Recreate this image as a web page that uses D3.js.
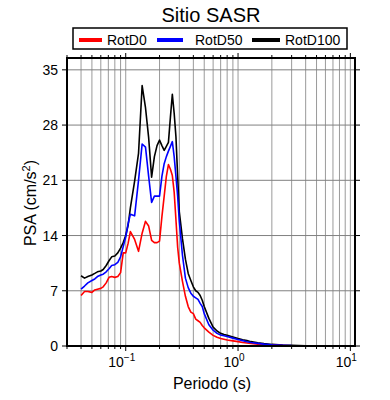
<!DOCTYPE html>
<html>
<head>
<meta charset="utf-8">
<script src="https://d3js.org/d3.v7.min.js"></script>
<style>
body { margin: 0; background: #fff; }
text { font-family: "Liberation Sans", Arial, sans-serif; fill: #000; }
</style>
</head>
<body>
<div id="chart"></div>
<script>
var periods = [0.04, 0.043, 0.046, 0.05, 0.053, 0.056, 0.06, 0.063, 0.067, 0.071, 0.075, 0.08, 0.085, 0.09, 0.095,
  0.1, 0.105, 0.11, 0.12, 0.13, 0.14, 0.15, 0.16, 0.17, 0.18, 0.19, 0.2, 0.21, 0.22, 0.23, 0.24, 0.25, 0.26, 0.27, 0.28, 0.29,
  0.3, 0.32, 0.34, 0.36, 0.38, 0.4, 0.42, 0.44, 0.46, 0.48, 0.5, 0.55, 0.6, 0.65, 0.7, 0.75, 0.8, 0.9,
  1.0, 1.1, 1.2, 1.3, 1.5, 1.7, 2.0, 2.5, 3.0, 4.0, 5.0, 7.5, 10.0]

var rotD0 = [6.4, 6.9, 6.9, 6.8, 7.1, 7.2, 7.3, 7.5, 8.0, 8.7, 8.8, 8.7, 8.8, 9.3, 11.8,
  11.8, 13.0, 14.5, 13.5, 12.0, 14.3, 15.8, 15.2, 13.4, 13.1, 13.1, 13.3, 16.4, 19.0, 21.5, 23.0, 22.4, 21.6, 19.5, 16.0, 12.5,
  10.5, 8.2, 6.3, 5.0, 4.3, 4.1, 3.4, 3.2, 3.0, 2.6, 2.3, 1.75, 1.35, 1.1, 0.95, 0.85, 0.76, 0.65,
  0.55, 0.45, 0.38, 0.32, 0.24, 0.17, 0.12, 0.07, 0.04, 0.02, 0.015, 0.01, 0.01]

var rotD50 = [7.2, 7.6, 8.0, 8.3, 8.5, 8.8, 9.0, 9.1, 9.4, 9.8, 10.2, 10.3, 10.6, 11.3, 12.6,
  13.8, 15.5, 16.7, 16.5, 21.0, 25.6, 25.2, 21.5, 18.2, 19.0, 19.0, 19.0, 21.5, 23.1, 24.0, 24.7, 25.3, 25.9, 24.0, 21.5, 19.0,
  15.8, 11.5, 8.6, 7.4, 6.7, 6.3, 6.1, 5.9, 5.4, 5.0, 4.1, 2.7, 2.0, 1.6, 1.4, 1.3, 1.2, 1.0,
  0.82, 0.68, 0.55, 0.45, 0.33, 0.24, 0.15, 0.09, 0.05, 0.03, 0.02, 0.01, 0.01]

var rotD100 = [8.9, 8.6, 8.8, 9.0, 9.2, 9.4, 9.5, 9.7, 10.2, 10.8, 11.3, 11.4, 11.8, 12.4, 13.1,
  14.0, 15.3, 17.5, 20.9, 24.4, 33.0, 30.2, 26.4, 21.4, 24.0, 25.4, 26.1, 25.4, 24.8, 25.3, 25.8, 29.0, 31.9, 29.5, 26.5, 21.5,
  17.0, 13.6, 11.0, 9.2, 8.3, 7.5, 7.0, 6.8, 6.4, 5.8, 5.0, 3.5, 2.4, 1.9, 1.6, 1.45, 1.35, 1.15,
  0.95, 0.8, 0.68, 0.55, 0.4, 0.3, 0.2, 0.12, 0.08, 0.04, 0.03, 0.02, 0.01]

var seriesNames = ["RotD0", "RotD50", "RotD100"]
var seriesColors = ["#ff0000", "#0000ff", "#000000"]
var yTicks = [0, 7, 14, 21, 28, 35]
var xMajor = [0.1, 1, 10]
var xMajorExp = ["\u22121", "0", "1"]

function drawChart() {
  var W = 390, H = 400
  var pL = 67, pR = 355, pT = 58, pB = 346

  var svg = d3.select("#chart").append("svg").attr("width", W).attr("height", H)
  svg.append("rect").attr("width", W).attr("height", H).attr("fill", "#fff")

  var x = d3.scaleLog().domain([0.03, 11]).range([pL, pR])
  var y = d3.scaleLinear().domain([0, 36.5]).range([pB, pT])

  // every log tick inside the domain (2..9 x decade)
  var xAll = x.ticks().filter(function(t) { return t >= 0.03 && t <= 11 })

  var grid = svg.append("g")
  grid.selectAll(".vg").data(xAll).enter().append("line")
    .attr("x1", function(d) { return x(d) }).attr("x2", function(d) { return x(d) })
    .attr("y1", pT).attr("y2", pB)
    .attr("stroke", "#9a9a9a").attr("stroke-width", 1)
  grid.selectAll(".hg").data(yTicks.slice(1)).enter().append("line")
    .attr("x1", pL).attr("x2", pR)
    .attr("y1", function(d) { return y(d) }).attr("y2", function(d) { return y(d) })
    .attr("stroke", "#808080").attr("stroke-width", 1)

  function isMajor(t) { return xMajor.some(function(m) { return Math.abs(m - t) < 1e-9 }) }

  // ticks on all four sides, pointing out
  var ticks = svg.append("g").attr("stroke", "#000").attr("stroke-width", 1)
  xAll.forEach(function(t) {
    var len = isMajor(t) ? 5 : 3
    ticks.append("line").attr("x1", x(t)).attr("x2", x(t)).attr("y1", pB).attr("y2", pB + len)
    ticks.append("line").attr("x1", x(t)).attr("x2", x(t)).attr("y1", pT).attr("y2", pT - len)
  })
  yTicks.forEach(function(t) {
    ticks.append("line").attr("x1", pL - 5).attr("x2", pL).attr("y1", y(t)).attr("y2", y(t))
    ticks.append("line").attr("x1", pR).attr("x2", pR + 5).attr("y1", y(t)).attr("y2", y(t))
  })

  var line = d3.line()
    .x(function(d) { return x(d[0]) })
    .y(function(d) { return y(d[1]) })

  var allValues = [rotD0, rotD50, rotD100]
  var drawOrder = [2, 0, 1]
  drawOrder.forEach(function(i) {
    var pts = periods.map(function(p, k) { return [p, allValues[i][k]] })
    svg.append("path").datum(pts)
      .attr("d", line)
      .attr("fill", "none")
      .attr("stroke", seriesColors[i])
      .attr("stroke-width", 1.6)
      .attr("stroke-linejoin", "round")
  })

  svg.append("rect")
    .attr("x", pL).attr("y", pT).attr("width", pR - pL).attr("height", pB - pT)
    .attr("fill", "none").attr("stroke", "#000").attr("stroke-width", 2)

  // y labels
  svg.selectAll(".yl").data(yTicks).enter().append("text")
    .attr("x", pL - 9).attr("y", function(d) { return y(d) + 5 })
    .attr("text-anchor", "end").attr("font-size", 14)
    .text(function(d) { return d })

  // x labels 10^n
  xMajor.forEach(function(t, i) {
    var tx = svg.append("text").attr("x", x(t) - 4).attr("y", 367)
      .attr("text-anchor", "middle").attr("font-size", 14)
    tx.append("tspan").text("10")
    tx.append("tspan").attr("dy", -6).attr("font-size", 10).text(xMajorExp[i])
  })

  svg.append("text").attr("x", 212).attr("y", 389).attr("text-anchor", "middle")
    .attr("font-size", 16).text("Periodo (s)")

  var yl = svg.append("text").attr("transform", "translate(36,203) rotate(-90)")
    .attr("text-anchor", "middle").attr("font-size", 16)
  yl.append("tspan").text("PSA (cm/s")
  yl.append("tspan").attr("dy", -6).attr("font-size", 11).text("2")
  yl.append("tspan").attr("dy", 6).text(")")

  svg.append("text").attr("x", 211).attr("y", 22).attr("text-anchor", "middle")
    .attr("font-size", 20).text("Sitio SASR")

  // legend
  var legend = svg.append("g")
  legend.append("rect").attr("x", 73).attr("y", 28).attr("width", 274).attr("height", 21)
    .attr("fill", "#fff").attr("stroke", "#000").attr("stroke-width", 1.5)
  var legLineX = [79, 157, 252]
  var legLineW = [23, 26, 28]
  var legTextX = [107, 195, 285]
  seriesNames.forEach(function(n, i) {
    legend.append("line").attr("x1", legLineX[i]).attr("x2", legLineX[i] + legLineW[i])
      .attr("y1", 40).attr("y2", 40).attr("stroke", seriesColors[i]).attr("stroke-width", 4)
    legend.append("text").attr("x", legTextX[i]).attr("y", 44.5).attr("font-size", 14).text(n)
  })
}
drawChart()
</script>
</body>
</html>
